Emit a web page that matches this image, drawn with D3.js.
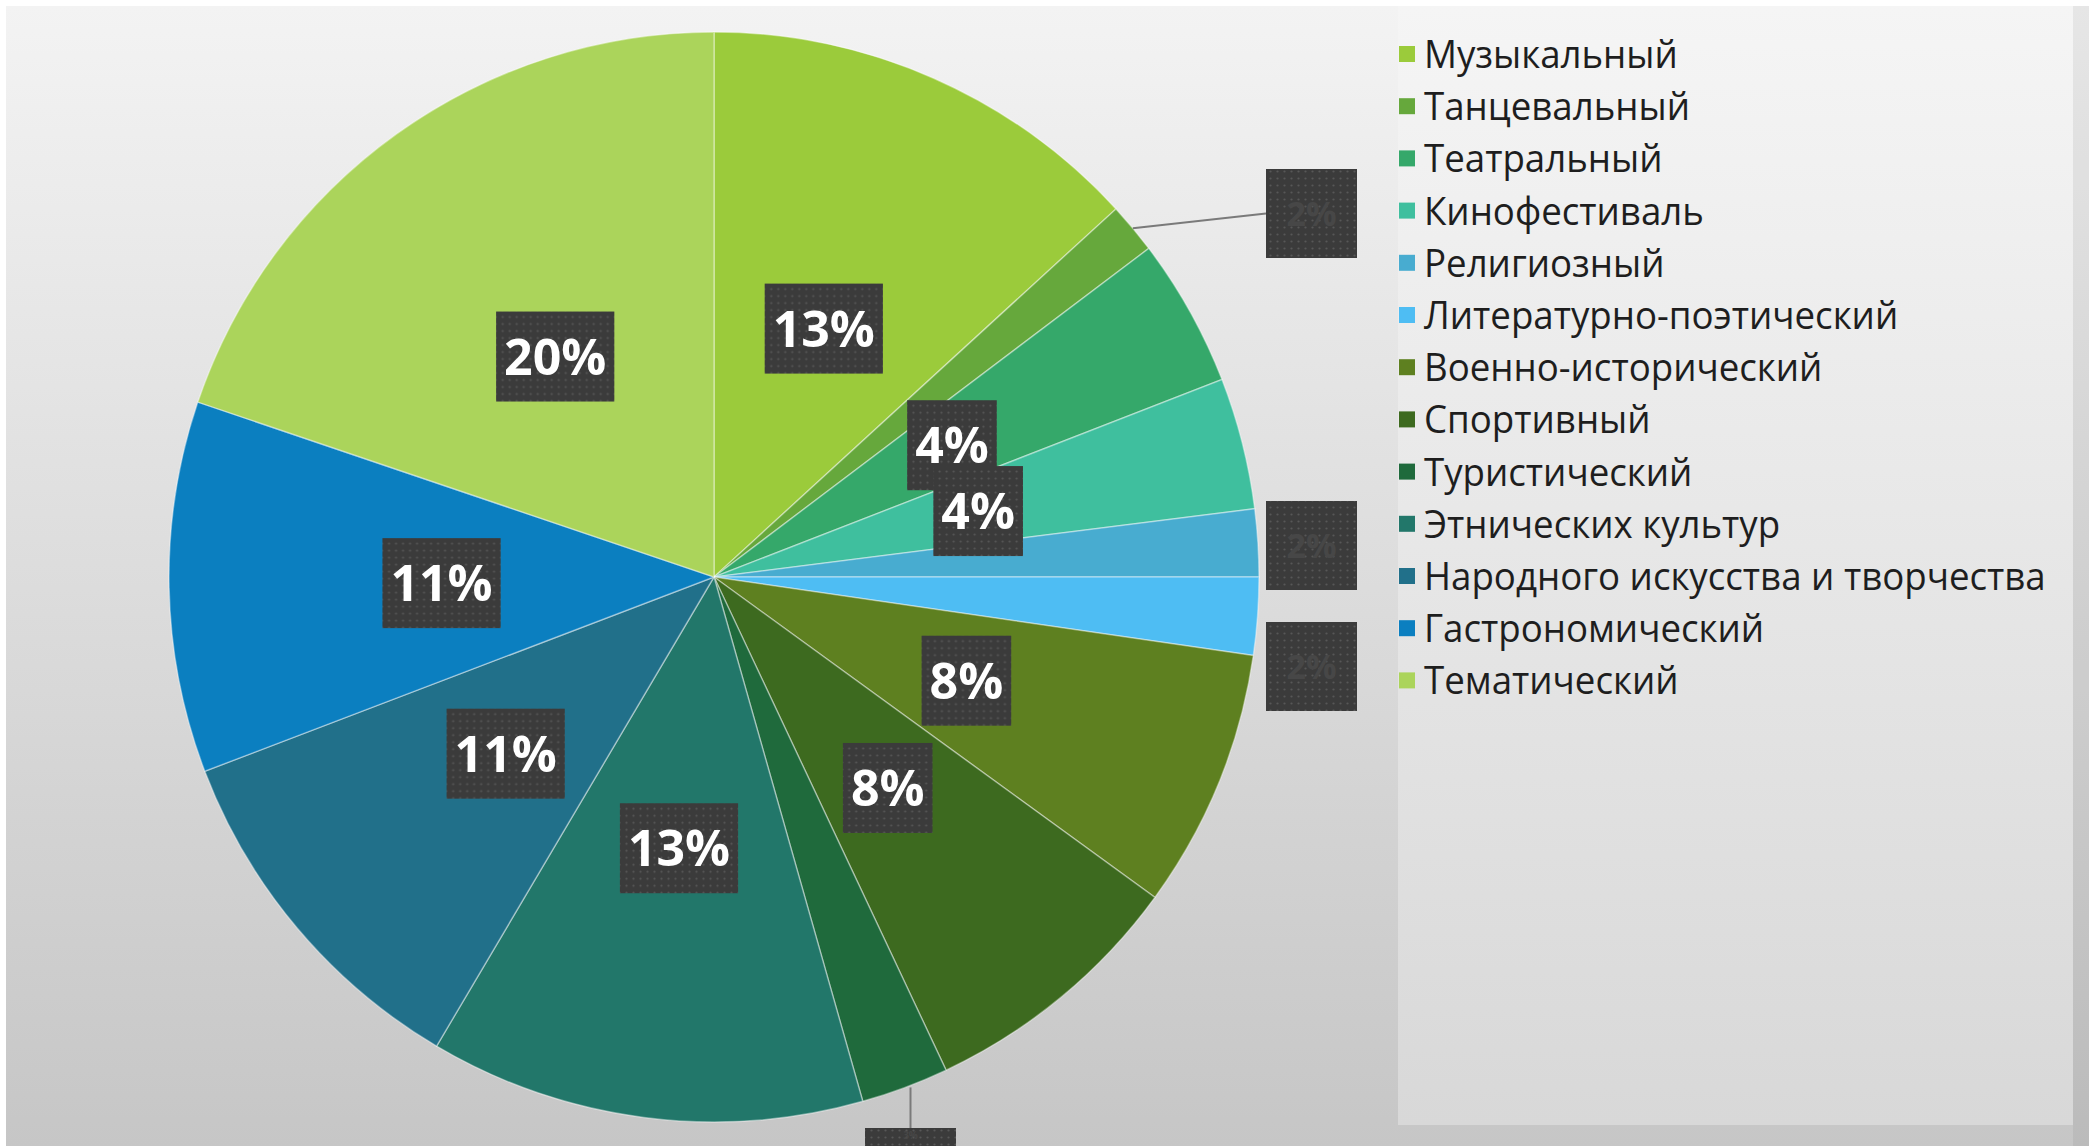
<!DOCTYPE html>
<html>
<head>
<meta charset="utf-8">
<script src="https://cdn.jsdelivr.net/npm/d3@7/dist/d3.min.js"></script>
<style>
  html, body { margin: 0; padding: 0; background: #ffffff; }
  svg { display: block; }
</style>
</head>
<body>
<svg id="chart" width="2089" height="1146"></svg>
<script>
// ---- data ----
const categories = [
  "Музыкальный",
  "Танцевальный",
  "Театральный",
  "Кинофестиваль",
  "Религиозный",
  "Литературно-поэтический",
  "Военно-исторический",
  "Спортивный",
  "Туристический",
  "Этнических культур",
  "Народного искусства и творчества",
  "Гастрономический",
  "Тематический"
];
const values = [13.2, 1.5, 4.4, 3.9, 2.0, 2.3, 7.7, 8.0, 2.6, 12.9, 10.7, 11.0, 19.8];
const colors = [
  "#9bcb3b", "#66a83c", "#35a86a", "#3fbf9e", "#48acd0", "#4ebdf3", "#5e8020",
  "#3d6a1f", "#1f6a3c", "#22776a", "#21708a", "#0b7fc0", "#abd45b"
];

// ---- layout ----
const W = 2089, H = 1146;
const cx = 714, cy = 577, R = 545;
const svg = d3.select("#chart");
const defs = svg.append("defs");

const bg = defs.append("linearGradient").attr("id", "bg").attr("x1", 0).attr("y1", 0).attr("x2", 0).attr("y2", 1);
bg.append("stop").attr("offset", "0%").attr("stop-color", "#f3f3f3");
bg.append("stop").attr("offset", "100%").attr("stop-color", "#c6c6c6");

const pg = defs.append("linearGradient").attr("id", "panel").attr("x1", 0).attr("y1", 0).attr("x2", 0).attr("y2", 1);
pg.append("stop").attr("offset", "0%").attr("stop-color", "#f5f5f5");
pg.append("stop").attr("offset", "100%").attr("stop-color", "#d8d8d8");

const pat = defs.append("pattern").attr("id", "dots").attr("width", 7).attr("height", 7)
  .attr("patternUnits", "userSpaceOnUse");
pat.append("rect").attr("width", 7).attr("height", 7).attr("fill", "#3b3b3b");
pat.append("circle").attr("cx", 3.5).attr("cy", 3.5).attr("r", 1.1).attr("fill", "#575757");

// background
svg.append("rect").attr("width", W).attr("height", H).attr("fill", "#ffffff");
svg.append("rect").attr("x", 6).attr("y", 6).attr("width", W - 6).attr("height", H - 6).attr("fill", "url(#bg)");
// right shadow strip
svg.append("rect").attr("x", 2073).attr("y", 6).attr("width", 16).attr("height", H - 6).attr("fill", "#000").attr("opacity", 0.05);
// legend panel
svg.append("rect").attr("x", 1398).attr("y", 6).attr("width", 675).attr("height", 1119).attr("fill", "url(#panel)");

// ---- pie ----
const total = d3.sum(values);
const pie = d3.pie().sort(null).value(d => d);
const arcs = pie(values);
const arc = d3.arc().innerRadius(0).outerRadius(R);
const g = svg.append("g").attr("transform", `translate(${cx},${cy})`);

g.selectAll("path.slice").data(arcs).join("path")
  .attr("class", "slice")
  .attr("d", arc)
  .attr("fill", (d, i) => colors[i])
  .attr("stroke", "rgba(255,255,255,0.4)")
  .attr("stroke-width", 1.5);

const pct = v => Math.round(v / total * 100) + "%";

// inside labels
const inside = arcs.filter(d => d.value / total >= 0.03);
const lab = g.selectAll("g.lab").data(inside).join("g").attr("class", "lab")
  .attr("transform", d => `translate(${arc.centroid(d)})`);
lab.each(function(d) {
  const sel = d3.select(this);
  const rect = sel.append("rect").attr("fill", "url(#dots)");
  const t = sel.append("text")
    .attr("text-anchor", "middle")
    .attr("y", 19)
    .attr("fill", "#ffffff")
    .attr("font-family", "Open Sans, sans-serif")
    .attr("font-weight", 700)
    .attr("font-size", 50)
    .text(pct(d.value));
  const w = t.node().getComputedTextLength() + 16;
  rect.attr("x", -w / 2).attr("y", -44).attr("width", w).attr("height", 90);
});

// outside labels (small slices): dark boxes, text barely visible
const outerArc = d3.arc().innerRadius(R).outerRadius(R);
const extBoxes = {
  1: {x: 1266, y: 169, lead: "side"},
  4: {x: 1266, y: 501, lead: null},
  5: {x: 1266, y: 622, lead: null},
  8: {x: 865, y: 1128, lead: "down"}
};
arcs.forEach((d, i) => {
  if (d.value / total >= 0.03) return;
  const b = extBoxes[i];
  if (!b) return;
  const bw = 91, bh = 89;
  const p = outerArc.centroid(d);
  const px = cx + p[0], py = cy + p[1];
  if (b.lead === "side") {
    svg.append("line").attr("x1", px).attr("y1", py).attr("x2", b.x).attr("y2", b.y + bh / 2)
      .attr("stroke", "#7a7a7a").attr("stroke-width", 2);
  } else if (b.lead === "down") {
    svg.append("line").attr("x1", b.x + bw / 2).attr("y1", py).attr("x2", b.x + bw / 2).attr("y2", b.y)
      .attr("stroke", "#7a7a7a").attr("stroke-width", 2);
  }
  svg.append("rect").attr("x", b.x).attr("y", b.y).attr("width", bw).attr("height", bh).attr("fill", "url(#dots)");
  const small = b.lead === "down";
  svg.append("text").attr("x", b.x + bw / 2).attr("y", small ? b.y + 11 : b.y + bh / 2 + 12)
    .attr("text-anchor", "middle")
    .attr("fill", "#474747")
    .attr("font-family", "Open Sans, sans-serif").attr("font-weight", 700)
    .attr("font-size", small ? 10 : 34)
    .text(pct(d.value));
});

// ---- legend ----
const lg = svg.append("g");
const rowY = i => 54 + i * 52.2;
categories.forEach((c, i) => {
  lg.append("rect").attr("x", 1399).attr("y", rowY(i) - 8).attr("width", 16).attr("height", 16).attr("fill", colors[i]);
  lg.append("text")
    .attr("transform", `translate(1424,${rowY(i) + 14}) scale(0.965,1)`)
    .attr("fill", "#1e1e1e")
    .attr("font-family", "Open Sans, sans-serif")
    .attr("font-size", 38)
    .text(c);
});
</script>
</body>
</html>
